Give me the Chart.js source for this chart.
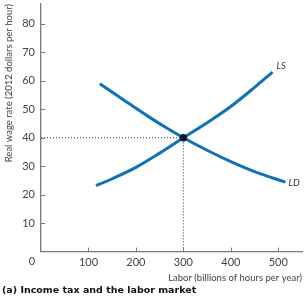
<!DOCTYPE html>
<html lang="en">
<head>
  <meta charset="UTF-8">
  <title>Income tax and the labor market</title>
  <script src="https://cdn.jsdelivr.net/npm/chart.js"></script>
  <style>
    body {
      margin: 0;
      background: #fff;
      font-family: Lato, sans-serif;
    }
    #chartBox {
      position: relative;
      width: 306px;
      height: 300px;
    }
  </style>
</head>
<body>
  <div id="chartBox">
    <canvas id="laborChart"></canvas>
  </div>

  <script>
    // labour demand (LD) and labour supply (LS)
    const ldLabor = [124, 175, 225, 265, 300, 350, 400, 450, 515];
    const ldWage  = [59, 53.2, 47.6, 43.4, 40, 35.6, 31.6, 28.1, 24.4];
    const lsLabor = [116, 150, 200, 250, 300, 350, 400, 450, 488];
    const lsWage  = [23.2, 25.6, 29.6, 34.6, 40, 45.3, 51, 57.7, 63.1];

    // equilibrium
    const eqLabor = 300;
    const eqWage = 40;

    const xTicks = [0, 100, 200, 300, 400, 500];
    const yTicks = [10, 20, 30, 40, 50, 60, 70, 80];

    const blue = '#0f72b5';
    const axisGrey = '#7a7a7a';
    const textGrey = '#444';

    const toPoints = (xs, ys) => xs.map((x, i) => ({ x: x, y: ys[i] }));

    // small ticks pointing into the plot, the lone "0" at the corner, curve names
    const decorations = {
      id: 'decorations',
      afterDatasetsDraw(chart) {
        const c = chart.ctx;
        const xs = chart.scales.x;
        const ys = chart.scales.y;
        const area = chart.chartArea;
        c.save();
        c.strokeStyle = axisGrey;
        c.lineWidth = 1;
        xTicks.forEach(v => {
          if (v === 0) return;
          const px = Math.round(xs.getPixelForValue(v)) + 0.5;
          c.beginPath();
          c.moveTo(px, area.bottom);
          c.lineTo(px, area.bottom - 4);
          c.stroke();
        });
        yTicks.forEach(v => {
          const py = Math.round(ys.getPixelForValue(v)) + 0.5;
          c.beginPath();
          c.moveTo(area.left, py);
          c.lineTo(area.left + 4, py);
          c.stroke();
        });

        c.fillStyle = textGrey;
        c.font = '11px Lato';
        c.textAlign = 'center';
        c.textBaseline = 'middle';
        c.fillText('0', area.left - 9, area.bottom + 10);

        c.font = 'italic 9.5px Lato';
        c.fillStyle = '#333';
        c.textAlign = 'left';
        const lsEnd = lsLabor.length - 1;
        c.fillText('LS', xs.getPixelForValue(lsLabor[lsEnd]) + 4, ys.getPixelForValue(lsWage[lsEnd]) - 6);
        const ldEnd = ldLabor.length - 1;
        c.fillText('LD', xs.getPixelForValue(ldLabor[ldEnd]) + 3, ys.getPixelForValue(ldWage[ldEnd]) + 1);
        c.restore();
      }
    };

    const ctx = document.getElementById('laborChart').getContext('2d');
    const laborChart = new Chart(ctx, {
      type: 'line',
      data: {
        datasets: [
          {
            // equilibrium point
            data: [{ x: eqLabor, y: eqWage }],
            showLine: false,
            pointRadius: 3.7,
            pointBackgroundColor: '#0b1233',
            pointBorderWidth: 0,
            order: 0
          },
          {
            label: 'LD',
            data: toPoints(ldLabor, ldWage),
            borderColor: blue,
            borderWidth: 3,
            pointRadius: 0,
            cubicInterpolationMode: 'monotone',
            order: 1
          },
          {
            label: 'LS',
            data: toPoints(lsLabor, lsWage),
            borderColor: blue,
            borderWidth: 3,
            pointRadius: 0,
            cubicInterpolationMode: 'monotone',
            order: 1
          },
          {
            // dotted guides to the axes
            data: [{ x: 0, y: eqWage }, { x: eqLabor, y: eqWage }, { x: eqLabor, y: 0 }],
            borderColor: '#333',
            borderWidth: 1,
            borderDash: [1, 2],
            pointRadius: 0,
            tension: 0,
            order: 2
          }
        ]
      },
      options: {
        responsive: true,
        maintainAspectRatio: false,
        animation: false,
        events: [],
        layout: {
          padding: { left: 2, top: 3, right: 3, bottom: 0 }
        },
        scales: {
          x: {
            type: 'linear',
            min: 0,
            max: 550,
            grid: { display: false, drawTicks: false },
            border: { display: true, color: axisGrey, width: 1.3 },
            ticks: {
              stepSize: 100,
              includeBounds: false,
              padding: 4,
              color: textGrey,
              font: { family: 'Lato', size: 11 },
              maxRotation: 0,
              callback: v => (v === 0 ? '' : v)
            },
            title: {
              display: true,
              text: 'Labor (billions of hours per year)',
              align: 'end',
              color: textGrey,
              font: { family: 'Lato', size: 9.5 },
              padding: { top: 0, bottom: 1 }
            },
            afterFit: scale => {
              scale.height = 33;
              scale.paddingLeft = 0;
              scale.paddingRight = 0;
            }
          },
          y: {
            type: 'linear',
            min: 0,
            max: 87,
            grid: { display: false, drawTicks: false },
            border: { display: true, color: axisGrey, width: 1.3 },
            ticks: {
              stepSize: 10,
              includeBounds: false,
              padding: 6,
              color: textGrey,
              font: { family: 'Lato', size: 11 },
              callback: v => (v === 0 ? '' : v)
            },
            title: {
              display: true,
              text: 'Real wage rate (2012 dollars per hour)',
              align: 'end',
              color: textGrey,
              font: { family: 'Lato', size: 9.5 },
              padding: { top: 1, bottom: 0 }
            },
            afterFit: scale => {
              scale.width = 39;
              scale.paddingTop = 0;
              scale.paddingBottom = 0;
            }
          }
        },
        plugins: {
          legend: { display: false },
          tooltip: { enabled: false },
          title: {
            display: true,
            position: 'bottom',
            align: 'start',
            text: '(a) Income tax and the labor market',
            color: '#111',
            font: { family: 'DejaVu Sans', size: 9.5, weight: 'bold' },
            padding: { top: 0, bottom: 4 }
          }
        }
      },
      plugins: [decorations]
    });
  </script>
</body>
</html>
